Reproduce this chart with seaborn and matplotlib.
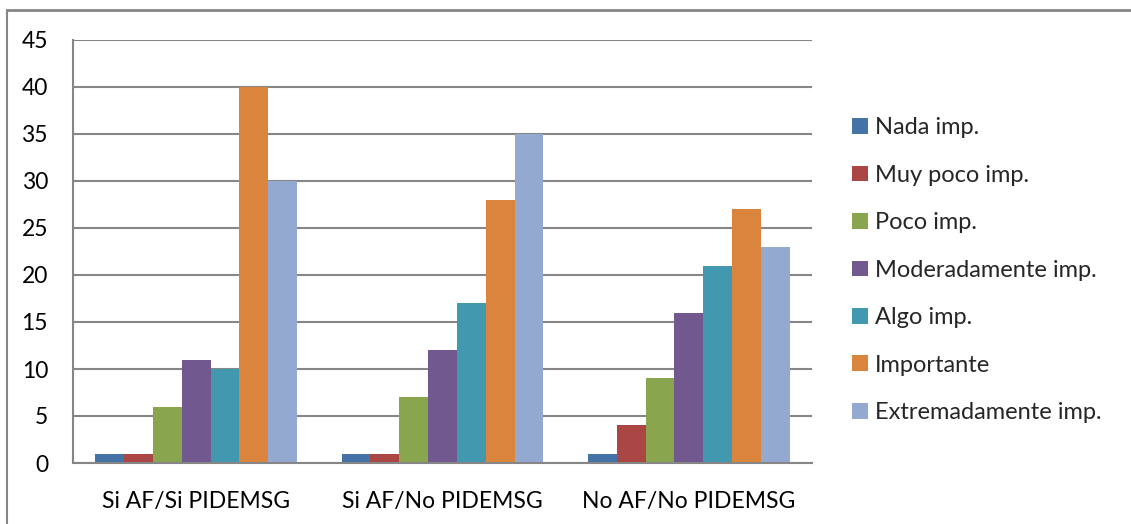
import matplotlib
matplotlib.use("Agg")
import matplotlib.pyplot as plt
import seaborn as sns
import pandas as pd
from matplotlib.lines import Line2D

groups = ["Si AF/Si PIDEMSG", "Si AF/No PIDEMSG", "No AF/No PIDEMSG"]
levels = ["Nada imp.", "Muy poco imp.", "Poco imp.", "Moderadamente imp.",
          "Algo imp.", "Importante", "Extremadamente imp."]
nada = [1, 1, 1]
muy_poco = [1, 1, 4]
poco = [6, 7, 9]
moderado = [11, 12, 16]
algo = [10, 17, 21]
importante = [40, 28, 27]
extremo = [30, 35, 23]
y_ticks = [0, 5, 10, 15, 20, 25, 30, 35, 40, 45]

colors = ["#4572A7", "#AA4643", "#89A54E", "#71588F", "#4198AF", "#DB843D", "#93A9CF"]

series = [nada, muy_poco, poco, moderado, algo, importante, extremo]
rows = []
for lvl, vals in zip(levels, series):
    for g, v in zip(groups, vals):
        rows.append({"grupo": g, "nivel": lvl, "valor": v})
df = pd.DataFrame(rows)

sns.set_style("white")
plt.rcParams["font.family"] = ["Lato", "DejaVu Sans"]

fig = plt.figure(figsize=(11.31, 5.24), dpi=100)
W, H = 1131, 524
ax = fig.add_axes([73 / W, (H - 463) / H, (812 - 73) / W, (463 - 40) / H])

sns.barplot(data=df, x="grupo", y="valor", hue="nivel", order=groups,
            hue_order=levels, palette=colors, width=0.82, gap=0,
            saturation=1, ax=ax, legend=True)

for p in ax.patches:
    p.set_edgecolor("none")

ax.set_ylim(0, 45)
ax.set_xlim(-0.5, 2.5)
ax.set_yticks(y_ticks)
ax.set_yticklabels([str(t) for t in y_ticks])
ax.yaxis.grid(True, color="#868686", linewidth=1.5)
ax.set_axisbelow(True)
ax.set_xlabel("")
ax.set_ylabel("")

grid_col = "#868686"
for side in ["top", "right"]:
    ax.spines[side].set_visible(False)
for side in ["left", "bottom"]:
    ax.spines[side].set_color(grid_col)
    ax.spines[side].set_linewidth(1.5)

ax.tick_params(axis="y", length=6, width=1.5, color=grid_col, labelsize=16.5,
               pad=12, labelcolor="black")
ax.set_xticks([-0.5, 0.5, 1.5, 2.5], minor=True)
ax.tick_params(axis="x", which="minor", length=8, width=1.5, color=grid_col)
ax.tick_params(axis="x", which="major", length=0, labelsize=16.5, pad=20,
               labelcolor="black")

handles, labels = ax.get_legend_handles_labels()
ax.legend_.remove()
fig.legend(handles, labels, loc="upper left", bbox_to_anchor=(843 / W, 1 - 108 / H),
           frameon=False, fontsize=17, handlelength=0.65, handleheight=0.65,
           handletextpad=0.3, labelspacing=1.12, borderaxespad=0)

# outer chart border along top and left
fig.add_artist(Line2D([7 / W, 1], [1 - 10 / H, 1 - 10 / H], transform=fig.transFigure,
                      color=grid_col, linewidth=2))
fig.add_artist(Line2D([7 / W, 7 / W], [0, 1 - 10 / H], transform=fig.transFigure,
                      color=grid_col, linewidth=1.5))

fig.savefig("out.png", dpi=100)
